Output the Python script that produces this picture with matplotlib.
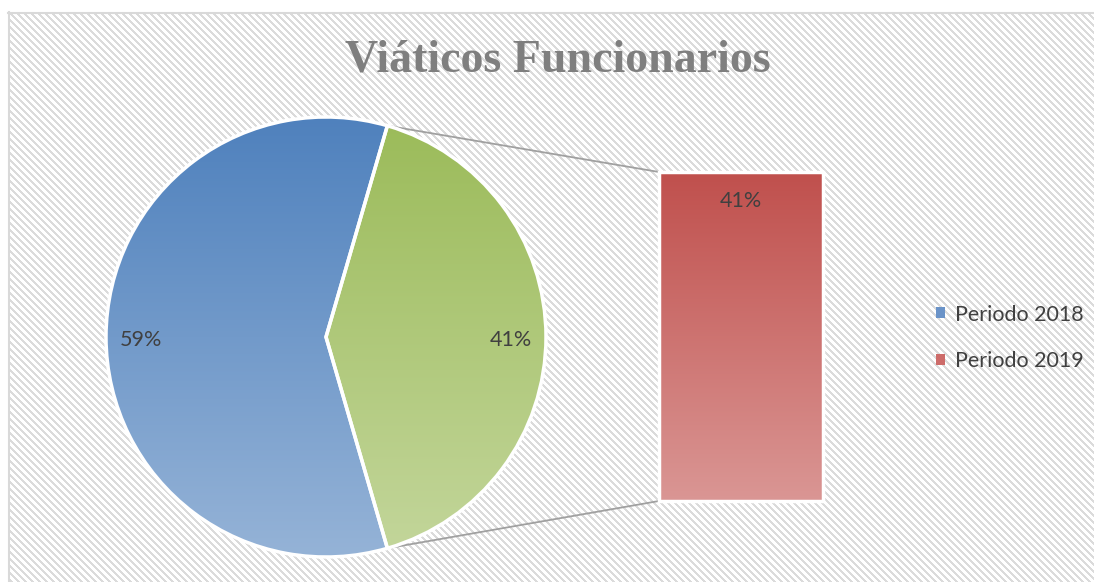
import numpy as np
import matplotlib
matplotlib.use("Agg")
import matplotlib.pyplot as plt
from matplotlib.colors import LinearSegmentedColormap
from matplotlib.patches import Patch

# ---- data ----
title = "Viáticos Funcionarios"
categories = ["Periodo 2018", "Periodo 2019"]
values = [59, 41]
pie_labels = ["59%", "41%"]
bar_label = "41%"

W, H = 1094, 582
fig = plt.figure(figsize=(W / 100, H / 100), dpi=100)
ax = fig.add_axes([0, 0, 1, 1])
ax.set_axis_off()

# background hatch pattern (diagonal light-gray stripes)
yy, xx = np.mgrid[0:H - 12, 0:W - 8]
pat = ((xx - yy) % 7) < 3
bg = np.where(pat[..., None], np.array([0.86, 0.86, 0.86]), np.array([1.0, 1.0, 1.0]))
ax.imshow(bg, extent=(8, W, H, 12), interpolation="nearest", zorder=0)
ax.plot([8, W], [12.5, 12.5], color="#D9D9D9", lw=1.5, zorder=1)
ax.plot([8.5, 8.5], [12, H], color="#D9D9D9", lw=1.5, zorder=1)

text_color = "#404040"
fontfam = ["Lato", "DejaVu Sans"]

# ---- pie ----
cx, cy, r = 326, 337, 220
other_frac = values[1] / sum(values)
start = 360 * other_frac / 2
wedges, _ = ax.pie(values, center=(cx, cy), radius=r, startangle=start,
                   counterclock=True,
                   wedgeprops=dict(edgecolor="white", linewidth=2.5))

grads = [("#4F81BD", "#95B3D7"), ("#9BBB59", "#C3D69B")]
for w, (c1, c2) in zip(wedges, grads):
    w.set_facecolor("none")
    cmap = LinearSegmentedColormap.from_list("g", [c1, c2])
    grad = np.linspace(0, 1, 256)[:, None]
    im = ax.imshow(grad, cmap=cmap, aspect="auto",
                   extent=(cx - r, cx + r, cy + r, cy - r), zorder=1.5)
    im.set_clip_path(w)
    w.set_zorder(2)

# pie labels
for w, lab in zip(wedges, pie_labels):
    ang = np.deg2rad((w.theta1 + w.theta2) / 2)
    tx = cx + 0.84 * r * np.cos(ang)
    ty = cy + 0.84 * r * np.sin(ang) + 3
    ax.text(tx, ty, lab, ha="center", va="center", fontsize=15.5,
            color=text_color, family=fontfam, zorder=3)

ax.set_xlim(0, W)
ax.set_ylim(H, 0)

# ---- bar of pie ----
bx0, bx1, by0, by1 = 659, 823, 172, 501
bax = fig.add_axes([bx0 / W, (H - by1) / H, (bx1 - bx0) / W, (by1 - by0) / H])
bax.set_axis_off()
bars = bax.bar([0], [values[1]], width=1, color="none", edgecolor="white",
               linewidth=2.5, clip_on=False, zorder=2)
bax.set_xlim(-0.5, 0.5)
bax.set_ylim(0, values[1])
cmap = LinearSegmentedColormap.from_list("r", ["#C0504D", "#DA9694"])
grad = np.linspace(0, 1, 256)[:, None]
bim = bax.imshow(grad, cmap=cmap, aspect="auto",
                 extent=(-0.5, 0.5, 0, values[1]), origin="upper", zorder=1)
bim.set_clip_path(bars[0])
bax.text(0, values[1] * 0.913, bar_label, ha="center", va="center",
         fontsize=15.5, color=text_color, family=fontfam, zorder=3)

# connector lines
top_ang = np.deg2rad(wedges[1].theta2)
bot_ang = np.deg2rad(wedges[1].theta1)
p_top = (cx + r * np.cos(top_ang), cy + r * np.sin(top_ang))
p_bot = (cx + r * np.cos(bot_ang), cy + r * np.sin(bot_ang))
to_main = ax.transData.inverted()
c_top = to_main.transform(bax.transData.transform((-0.5, values[1])))
c_bot = to_main.transform(bax.transData.transform((-0.5, 0)))
pts = sorted([p_top, p_bot], key=lambda p: p[1])
cs = sorted([c_top, c_bot], key=lambda p: p[1])
for p, c in zip(pts, cs):
    ax.plot([p[0], c[0]], [p[1], c[1]], color="#A0A0A0", lw=1.3, zorder=1.2)

# ---- title ----
fig.text(558 / W, 1 - 60 / H, title, ha="center", va="center",
         fontsize=33, fontweight="bold", color="#7F7F7F",
         family=["Liberation Serif", "DejaVu Serif"])

# ---- legend ----
handles = [Patch(facecolor="#6A93C8", edgecolor="none"),
           Patch(facecolor="#CD6C6A", edgecolor="none")]
fig.legend(handles, categories, loc="center left",
           bbox_to_anchor=(917 / W, 1 - 338 / H), frameon=False,
           prop=dict(family=fontfam, size=15.5), labelcolor=text_color,
           handlelength=0.4, handleheight=0.4, handletextpad=0.45,
           labelspacing=1.25)

fig.savefig("out.png", dpi=100)
